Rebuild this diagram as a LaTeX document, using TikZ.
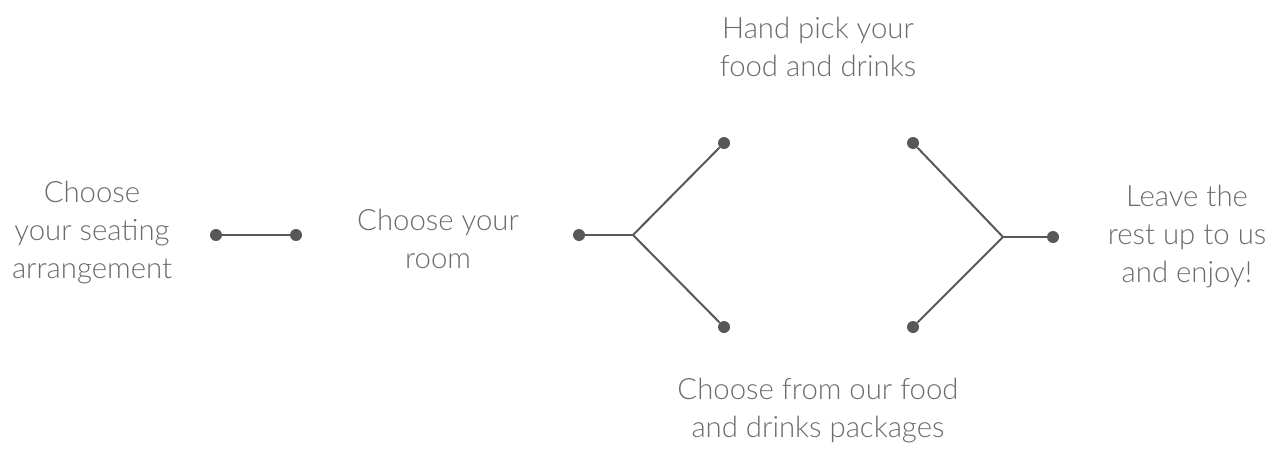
\documentclass[tikz,border=0pt]{standalone}
\usepackage{fontspec}
\setmainfont{Lato}[UprightFont=* Light]
\usepackage{xcolor}
\usepackage{tikz}
\usetikzlibrary{positioning}
\definecolor{dotgrey}{HTML}{58585A}
\definecolor{textgrey}{HTML}{6B6B6B}
\tikzset{
    label/.style = {align=center, text=textgrey, font=\fontsize{22}{28.5}\selectfont, inner sep=0pt},
    dot/.style = {circle, fill=dotgrey, minimum size=9pt, inner sep=0pt},
    link/.style = {draw=dotgrey, line width=1.5pt}
}
\begin{document}
\begin{tikzpicture}[x=0.75pt, y=-0.75pt]
\useasboundingbox (0,0) rectangle (1271,450);

\node (seating) [label] at (92,233) {Choose\\your seating\\arrangement};
\node (room) [label] at (438,239) {Choose your\\room};
\node (handpick) [label] at (818,47) {Hand pick your\\food and drinks};
\node (packages) [label] at (818,411) {Choose from our food\\and drinks packages};
\node (enjoy) [label] at (1187,237) {Leave the\\rest up to us\\and enjoy!};

\node (a1) [dot] at (216,235) {};
\node (a2) [dot] at (296,235) {};
\node (b1) [dot] at (579,235) {};
\coordinate (bfork) at (633,235);
\node (bup) [dot] at (724,143) {};
\node (bdown) [dot] at (724,327) {};
\node (cup) [dot] at (913,143) {};
\node (cdown) [dot] at (913,327) {};
\coordinate (cfork) at (1003,237);
\node (c1) [dot] at (1053,237) {};

\draw [link] (a1) -- (a2);
\draw [link] (b1) -- (bfork);
\draw [link] (bfork) -- (bup);
\draw [link] (bfork) -- (bdown);
\draw [link] (cup) -- (cfork);
\draw [link] (cdown) -- (cfork);
\draw [link] (cfork) -- (c1);
\end{tikzpicture}
\end{document}
